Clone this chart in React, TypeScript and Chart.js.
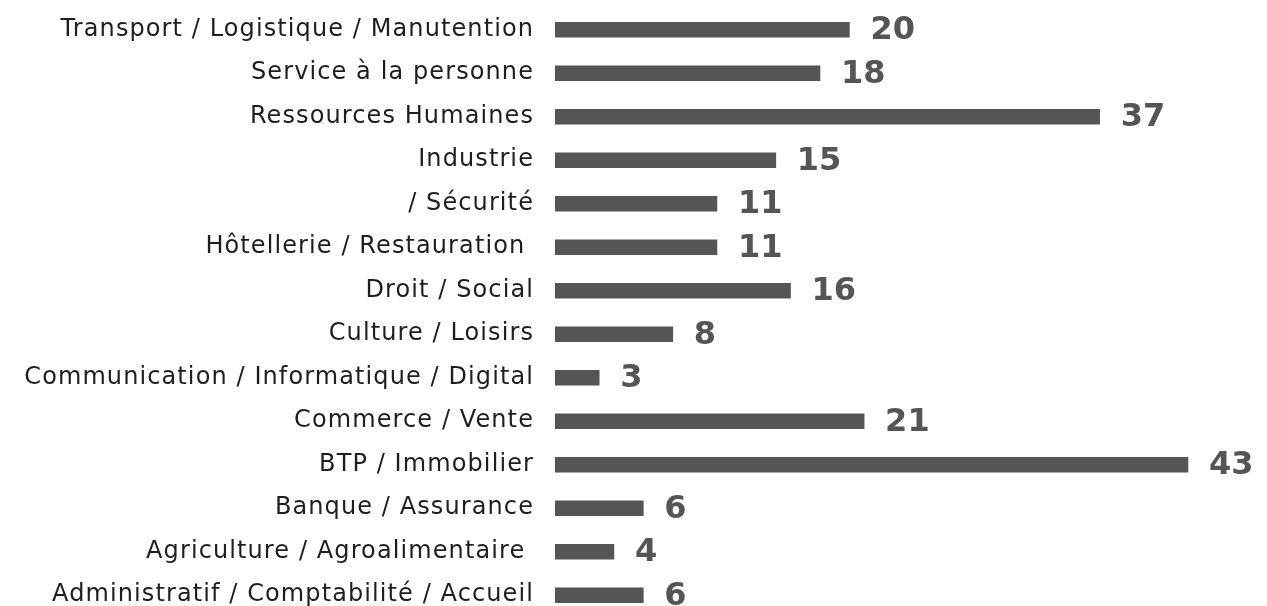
import React, { useEffect, useRef } from "react";
import { Chart, registerables } from "chart.js";

Chart.register(...registerables);

const categories = [
  "Transport / Logistique / Manutention",
  "Service à la personne",
  "Ressources Humaines",
  "Industrie",
  "/ Sécurité",
  "Hôtellerie / Restauration ",
  "Droit / Social",
  "Culture / Loisirs",
  "Communication / Informatique / Digital",
  "Commerce / Vente",
  "BTP / Immobilier",
  "Banque / Assurance",
  "Agriculture / Agroalimentaire ",
  "Administratif / Comptabilité / Accueil",
];

const values = [20, 18, 37, 15, 11, 11, 16, 8, 3, 21, 43, 6, 4, 6];

const BAR_COLOR = "#555555";

const spacing = {
  id: "spacing",
  beforeDraw(chart: any) {
    (chart.ctx as any).letterSpacing = "1.1px";
  },
};

const valueLabels = {
  id: "valueLabels",
  afterDatasetsDraw(chart: any) {
    const ctx = chart.ctx;
    const meta = chart.getDatasetMeta(0);
    ctx.save();
    (ctx as any).letterSpacing = "0px";
    ctx.fillStyle = BAR_COLOR;
    ctx.font = "bold 32px 'DejaVu Sans'";
    ctx.textAlign = "left";
    ctx.textBaseline = "middle";
    meta.data.forEach((el: any, i: number) => {
      ctx.fillText(String(values[i]), el.x + 21, el.y + 1);
    });
    ctx.restore();
  },
};

export default function App() {
  const ref = useRef<HTMLCanvasElement | null>(null);
  useEffect(() => {
    if (!ref.current) return;
    const chart = new Chart(ref.current, {
      type: "bar",
      data: {
        labels: categories,
        datasets: [
          {
            data: values,
            backgroundColor: BAR_COLOR,
            barThickness: 15,
          },
        ],
      },
      options: {
        indexAxis: "y",
        animation: false,
        responsive: false,
        layout: { padding: { left: 0, right: 41.6, top: 0, bottom: 0 } },
        plugins: {
          legend: { display: false },
          tooltip: { enabled: false },
        },
        scales: {
          x: {
            display: false,
            min: 0,
            max: 45,
          },
          y: {
            afterFit(scale: any) {
              scale.width = 547;
              scale.paddingTop = 0;
              scale.paddingBottom = 0;
            },
            grid: { display: false, drawTicks: false },
            border: { display: false },
            ticks: {
              padding: 21,
              color: "#1e1e1e",
              font: { family: "'DejaVu Sans'", size: 24 },
              autoSkip: false,
            },
          },
        },
      },
      plugins: [spacing, valueLabels],
    });
    return () => chart.destroy();
  }, []);
  return (
    <div style={{ width: 1251, height: 609 }}>
      <canvas ref={ref} width={1251} height={609} style={{ display: "block" }} />
    </div>
  );
}
